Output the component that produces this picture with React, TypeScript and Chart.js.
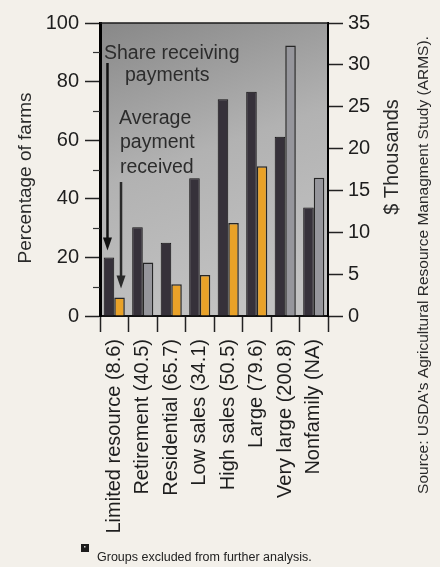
import React, { useEffect, useRef } from 'react';
import { Chart, registerables } from 'chart.js';

Chart.register(...registerables);

const categories = [
  'Limited resource (8.6)',
  'Retirement (40.5)',
  'Residential (65.7)',
  'Low sales (34.1)',
  'High sales (50.5)',
  'Large (79.6)',
  'Very large (200.8)',
  'Nonfamily (NA)',
];
// Percentage of farms receiving payments (left axis)
const shareReceiving = [20, 30.3, 25, 47, 74, 76.5, 61.2, 37];
// Average payment received, $ thousands (right axis)
const avgPayment = [2.2, 6.4, 3.8, 4.9, 11.1, 17.9, 32.3, 16.5];
// Groups excluded from further analysis
const excludedGroup = [false, true, false, false, false, false, true, true];

const leftTicks = [0, 20, 40, 60, 80, 100];
const leftMinorTicks = [10, 30, 50, 70, 90];
const rightTicks = [0, 5, 10, 15, 20, 25, 30, 35];

const FONT = '"Liberation Sans", Arial, Helvetica, sans-serif';

export default function App() {
  const ref = useRef<HTMLCanvasElement>(null);

  useEffect(() => {
    const canvas = ref.current;
    if (!canvas) return;

    const decor = {
      id: 'decor',
      beforeDraw(chart: any) {
        const { ctx, chartArea: a, width, height } = chart;
        ctx.save();
        ctx.fillStyle = '#f3f0ea';
        ctx.fillRect(0, 0, width, height);
        const g = ctx.createLinearGradient(a.left, a.top, a.left + (a.right - a.left) * 0.45, a.bottom);
        g.addColorStop(0, '#888888');
        g.addColorStop(0.5, '#b2b2b2');
        g.addColorStop(1, '#c2c2c2');
        ctx.fillStyle = g;
        ctx.fillRect(a.left, a.top, a.right - a.left, a.bottom - a.top);
        ctx.restore();
      },
      afterDatasetsDraw(chart: any) {
        const { ctx } = chart;
        const b0 = chart.getDatasetMeta(0).data[0];
        const b1 = chart.getDatasetMeta(1).data[0];
        const arrow = (x: number, y0: number, y1: number, color: string) => {
          ctx.save();
          ctx.strokeStyle = color;
          ctx.fillStyle = color;
          ctx.lineWidth = 2.5;
          ctx.beginPath();
          ctx.moveTo(x, y0);
          ctx.lineTo(x, y1 - 12);
          ctx.stroke();
          ctx.beginPath();
          ctx.moveTo(x - 4.5, y1 - 13);
          ctx.lineTo(x + 4.5, y1 - 13);
          ctx.lineTo(x, y1);
          ctx.closePath();
          ctx.fill();
          ctx.restore();
        };
        const a = chart.chartArea;
        arrow(b0.x - 1.5, a.top + 40, b0.y - 7, '#111');
        arrow(b1.x + 1.5, a.top + 159, b1.y - 9, '#2a2a2a');
      },
      afterDraw(chart: any) {
        const { ctx, chartArea: a } = chart;
        const y = chart.scales.y;
        ctx.save();
        // top frame
        ctx.strokeStyle = '#1a1a1a';
        ctx.lineWidth = 1.5;
        ctx.beginPath();
        ctx.moveTo(a.left, a.top);
        ctx.lineTo(a.right, a.top);
        ctx.stroke();
        // minor ticks on left axis
        ctx.strokeStyle = '#333';
        ctx.lineWidth = 1.2;
        leftMinorTicks.forEach((v) => {
          const py = Math.round(y.getPixelForValue(v)) + 0.5;
          ctx.beginPath();
          ctx.moveTo(a.left - 7, py);
          ctx.lineTo(a.left, py);
          ctx.stroke();
        });

        // annotations
        ctx.fillStyle = '#2c2c2c';
        ctx.font = `19.5px ${FONT}`;
        ctx.textBaseline = 'alphabetic';
        ctx.textAlign = 'left';
        ctx.fillText('Share receiving', a.left + 4, a.top + 36);
        ctx.fillText('payments', a.left + 25, a.top + 58);
        ctx.fillText('Average', a.left + 19, a.top + 101);
        ctx.fillText('payment', a.left + 20, a.top + 125);
        ctx.fillText('received', a.left + 20, a.top + 150);

        const vtext = (t: string, cx: number, cy: number, size: number, color: string) => {
          ctx.save();
          ctx.translate(cx, cy);
          ctx.rotate(-Math.PI / 2);
          ctx.fillStyle = color;
          ctx.font = `${size}px ${FONT}`;
          ctx.textAlign = 'center';
          ctx.textBaseline = 'middle';
          ctx.fillText(t, 0, 0);
          ctx.restore();
        };
        vtext('Percentage of farms', 26, 178, 19, '#2a2a2a');
        vtext('$ Thousands', 392, 157, 20, '#2a2a2a');
        vtext("Source: USDA's Agricultural Resource Managment Study (ARMS).", 424, 265, 15.5, '#2a2a2a');

        // legend
        ctx.fillStyle = '#1c1c1c';
        ctx.fillRect(81, 544, 8, 8);
        ctx.fillStyle = '#cfcfcf';
        ctx.fillRect(84, 546, 1.5, 1.5);
        ctx.fillStyle = '#222';
        ctx.font = `12.5px ${FONT}`;
        ctx.textAlign = 'left';
        ctx.textBaseline = 'alphabetic';
        ctx.fillText('Groups excluded from further analysis.', 97, 561);
        ctx.restore();
      },
    };

    const tickColor = '#1e1e1e';

    const chart = new Chart(canvas, {
      type: 'bar',
      data: {
        labels: categories,
        datasets: [
          {
            label: 'Share receiving payments',
            data: shareReceiving,
            yAxisID: 'y',
            backgroundColor: '#36313a',
            borderColor: '#121012',
            borderWidth: 1,
            categoryPercentage: 0.74,
            barPercentage: 1,
          },
          {
            label: 'Average payment received',
            data: avgPayment,
            yAxisID: 'y2',
            backgroundColor: excludedGroup.map((e) => (e ? '#96969c' : '#e9a228')),
            borderColor: '#262626',
            borderWidth: 1.5,
            categoryPercentage: 0.74,
            barPercentage: 1,
          },
        ],
      },
      options: {
        responsive: true,
        maintainAspectRatio: false,
        animation: false,
        layout: { padding: { top: 23, left: 0, right: 0, bottom: 0 } },
        plugins: {
          legend: { display: false },
          tooltip: { enabled: false },
        },
        scales: {
          x: {
            type: 'category',
            offset: true,
            grid: {
              offset: true,
              drawOnChartArea: false,
              drawTicks: true,
              tickLength: 16,
              tickColor: '#222',
              tickWidth: 1.5,
            },
            border: { display: true, color: '#111', width: 2 },
            ticks: {
              autoSkip: false,
              minRotation: 90,
              maxRotation: 90,
              padding: 7,
              color: tickColor,
              font: { family: FONT, size: 20 },
            },
            afterFit(s: any) {
              s.height = 251;
            },
          },
          y: {
            position: 'left',
            min: 0,
            max: 100,
            afterBuildTicks(s: any) {
              s.ticks = leftTicks.map((v) => ({ value: v }));
            },
            grid: {
              drawOnChartArea: false,
              tickLength: 15,
              tickColor: '#222',
              tickWidth: 1.5,
            },
            border: { display: true, color: '#000', width: 3 },
            ticks: {
              padding: 6,
              color: tickColor,
              font: { family: FONT, size: 20 },
            },
            afterFit(s: any) {
              s.width = 100;
            },
          },
          y2: {
            position: 'right',
            min: 0,
            max: 35,
            afterBuildTicks(s: any) {
              s.ticks = rightTicks.map((v) => ({ value: v }));
            },
            grid: {
              drawOnChartArea: false,
              tickLength: 15,
              tickColor: '#222',
              tickWidth: 1.5,
            },
            border: { display: true, color: '#000', width: 2 },
            ticks: {
              padding: 5,
              color: tickColor,
              font: { family: FONT, size: 20 },
            },
            afterFit(s: any) {
              s.width = 112;
            },
          },
        },
      },
      plugins: [decor],
    });

    return () => chart.destroy();
  }, []);

  return (
    <div style={{ position: 'fixed', left: 0, top: 0, width: 440, height: 567 }}>
      <canvas ref={ref} />
    </div>
  );
}
